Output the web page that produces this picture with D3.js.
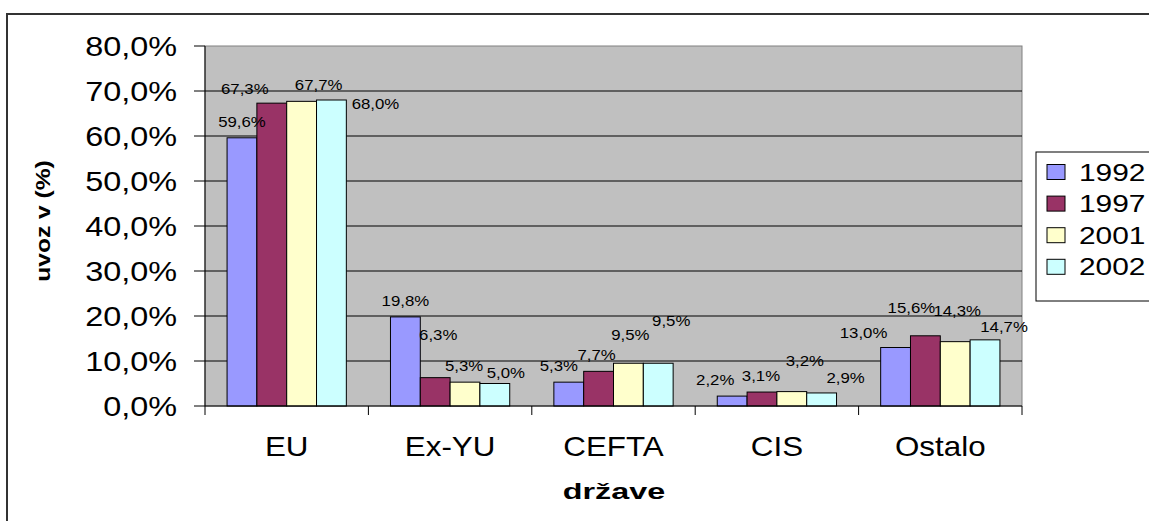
<!DOCTYPE html>
<html>
<head>
<meta charset="utf-8">
<script src="https://cdn.jsdelivr.net/npm/d3@7"></script>
<style>
  body { margin: 0; background: #fff; }
  svg { display: block; font-family: "Liberation Sans", Arial, sans-serif; }
</style>
</head>
<body>
<svg width="1149" height="521"></svg>
<script>
const categories = ["EU", "Ex-YU", "CEFTA", "CIS", "Ostalo"]
const years = ["1992", "1997", "2001", "2002"]
const v1992 = [59.6, 19.8, 5.3, 2.2, 13.0]
const v1997 = [67.3, 6.3, 7.7, 3.1, 15.6]
const v2001 = [67.7, 5.3, 9.5, 3.2, 14.3]
const v2002 = [68.0, 5.0, 9.5, 2.9, 14.7]
const yTicks = [0, 10, 20, 30, 40, 50, 60, 70, 80]

const colors = ["#9999FF", "#993366", "#FFFFCC", "#CCFFFF"]

// labels were dragged around by hand in the original, so nudge them
const nudges = [
  [[0, 0], [0, 0], [-10, 0], [-17, 0], [-32, 1]],
  [[-27, 2], [3, -27], [-2, 0], [-1, 0], [-14, -12]],
  [[17, 0], [-1, 0], [2, -12], [13, -15], [2, -15]],
  [[44, 20], [11, 5], [13, -26], [24, 1], [19, 3]]
]

const series = [v1992, v1997, v2001, v2002]
const rows = []
categories.forEach((c, i) => {
  years.forEach((y, j) => {
    rows.push({cat: c, year: y, value: series[j][i], si: j, nudge: nudges[j][i]})
  })
})

const svg = d3.select("svg")
const plotLeft = 205, plotRight = 1022, plotTop = 46, plotBottom = 406

const x = d3.scaleBand().domain(categories).range([plotLeft, plotRight])
const xInner = d3.scaleBand().domain(years).range([0, x.bandwidth()]).paddingOuter(0.74)
const y = d3.scaleLinear().domain([0, 80]).range([plotBottom, plotTop])

const fmt = v => d3.format(".1f")(v).replace(".", ",") + "%"

// stretched text helper (the original is wider than a plain Arial)
function label(parent, tx, ty, txt, size, sx, anchor, weight) {
  const g = parent.append("g").attr("transform", `translate(${tx},${ty}) scale(${sx},1)`)
  g.append("text")
    .attr("text-anchor", anchor)
    .attr("font-size", size)
    .attr("font-weight", weight || "normal")
    .attr("fill", "#000")
    .text(txt)
  return g
}

// outer frame
svg.append("path")
  .attr("d", "M7,521V14H1149")
  .attr("fill", "none")
  .attr("stroke", "#333")
  .attr("stroke-width", 2)

// plot area
svg.append("rect")
  .attr("x", plotLeft).attr("y", plotTop)
  .attr("width", plotRight - plotLeft).attr("height", plotBottom - plotTop)
  .attr("fill", "#C0C0C0")
  .attr("stroke", "#808080")

svg.append("g")
  .selectAll("line")
  .data(yTicks.filter(t => t > 0 && t < 80))
  .join("line")
  .attr("x1", plotLeft).attr("x2", plotRight)
  .attr("y1", d => y(d)).attr("y2", d => y(d))
  .attr("stroke", "#000")

// bars
svg.append("g")
  .selectAll("rect")
  .data(rows)
  .join("rect")
  .attr("x", d => x(d.cat) + xInner(d.year))
  .attr("y", d => y(d.value))
  .attr("width", xInner.bandwidth())
  .attr("height", d => y(0) - y(d.value))
  .attr("fill", d => colors[d.si])
  .attr("stroke", "#000")
  .attr("stroke-width", 1)

// data labels
const lab = svg.append("g")
rows.forEach(d => {
  const cx = x(d.cat) + xInner(d.year) + xInner.bandwidth() / 2 + d.nudge[0]
  const cy = y(d.value) - 11 + d.nudge[1]
  label(lab, cx, cy, fmt(d.value), 14, 1.2, "middle")
})

// y axis
const yAxis = svg.append("g")
yAxis.append("line")
  .attr("x1", plotLeft).attr("x2", plotLeft)
  .attr("y1", plotTop).attr("y2", plotBottom)
  .attr("stroke", "#000")
yAxis.selectAll("line.tick")
  .data(yTicks)
  .join("line")
  .attr("class", "tick")
  .attr("x1", plotLeft - 11).attr("x2", plotLeft)
  .attr("y1", d => y(d)).attr("y2", d => y(d))
  .attr("stroke", "#000")
yTicks.forEach(t => {
  label(yAxis, 177, y(t) + 10, d3.format(".1f")(t).replace(".", ",") + "%", 27, 1.2, "end")
})

// x axis
const xAxis = svg.append("g")
xAxis.append("line")
  .attr("x1", plotLeft).attr("x2", plotRight)
  .attr("y1", plotBottom).attr("y2", plotBottom)
  .attr("stroke", "#000")
const edges = categories.map(c => x(c)).concat([plotRight])
xAxis.selectAll("line.tick")
  .data(edges)
  .join("line")
  .attr("class", "tick")
  .attr("x1", d => d).attr("x2", d => d)
  .attr("y1", plotBottom).attr("y2", plotBottom + 9)
  .attr("stroke", "#000")
categories.forEach(c => {
  label(xAxis, x(c) + x.bandwidth() / 2, 456, c, 28, 1.12, "middle")
})

// axis titles
label(svg, 614, 499, "države", 22, 1.47, "middle", "bold")
const yt = svg.append("g").attr("transform", "translate(50,221) rotate(-90)")
label(yt, 0, 0, "uvoz v (%)", 20, 1.23, "middle", "bold")

// legend
const legend = svg.append("g")
legend.append("rect")
  .attr("x", 1036).attr("y", 152)
  .attr("width", 140).attr("height", 149)
  .attr("fill", "#fff")
  .attr("stroke", "#000")
years.forEach((yr, i) => {
  const cy = 172 + i * 31.6
  legend.append("rect")
    .attr("x", 1047).attr("y", cy - 7.5)
    .attr("width", 18).attr("height", 15)
    .attr("fill", colors[i])
    .attr("stroke", "#000")
  label(legend, 1079, cy + 8.5, yr, 23, 1.3, "start")
})
</script>
</body>
</html>
